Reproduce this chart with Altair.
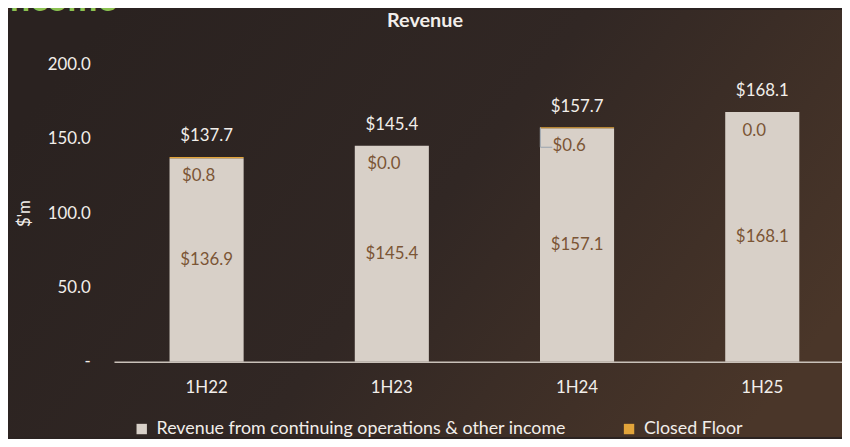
import altair as alt
import pandas as pd

periods = ["1H22", "1H23", "1H24", "1H25"]
revenue = [136.9, 145.4, 157.1, 168.1]
closed_floor = [0.8, 0.0, 0.6, 0.0]
totals = [137.7, 145.4, 157.7, 168.1]
revenue_labels = ["$136.9", "$145.4", "$157.1", "$168.1"]
floor_labels = ["$0.8", "$0.0", "$0.6", "0.0"]
total_labels = ["$137.7", "$145.4", "$157.7", "$168.1"]
series = ["Revenue from continuing operations & other income", "Closed Floor"]
series_colors = ["#d8d0c8", "#e2a43a"]

FONT = "Lato"
TXT = "#f2eeea"

rows = []
for i, p in enumerate(periods):
    rows.append({"period": p, "series": series[0], "value": revenue[i], "ord": 0})
    rows.append({"period": p, "series": series[1], "value": closed_floor[i], "ord": 1})
stack_df = pd.DataFrame(rows)

lab_df = pd.DataFrame({
    "period": periods,
    "rev_mid": [v / 2 for v in revenue],
    "total": totals,
    "rev_label": revenue_labels,
    "floor_label": floor_labels,
    "total_label": total_labels,
})

# leader line for 1H24 closed-floor label
leader_df = pd.DataFrame({"period": ["1H24"], "ytop": [157.6], "ybot": [144.3]})

xscale = alt.Scale(domain=periods, range=[0, 748], paddingInner=0.6, paddingOuter=0.3)
yscale = alt.Scale(domain=[0, 200])
X = alt.X("period:N", scale=xscale, sort=periods,
          axis=alt.Axis(title=None, labelAngle=0, ticks=False, labelPadding=18,
                        labelFontSize=17, labelColor=TXT, labelFont=FONT,
                        domainColor="#c9c1b9", domainWidth=1.5, grid=False, zindex=1))

bg = alt.Chart(pd.DataFrame({"a": [0]})).mark_rect(
    color={"gradient": "linear", "x1": 0, "y1": 0.3, "x2": 1, "y2": 0.7,
           "stops": [{"offset": 0, "color": "#2a2220"},
                     {"offset": 0.5, "color": "#312724"},
                     {"offset": 1, "color": "#4a3629"}]}
).encode(x=alt.value(-107), x2=alt.value(735), y=alt.value(-55), y2=alt.value(376))

bars = alt.Chart(stack_df).mark_bar().encode(
    x=X,
    y=alt.Y("value:Q", stack="zero", scale=yscale,
            axis=alt.Axis(title="$'m", values=[0, 50, 100, 150, 200], grid=False,
                          domain=False, ticks=False, labelPadding=24, zindex=1,
                          labelExpr="datum.value == 0 ? '-' : format(datum.value, '.1f')",
                          labelFontSize=17, labelColor=TXT, labelFont=FONT,
                          titleFontSize=17, titleColor=TXT, titleFont=FONT,
                          titleFontWeight="normal", titleAngle=-90,
                          titleX=-90, titleY=150, titleAlign="center",
                          titleBaseline="middle")),
    color=alt.Color("series:N", scale=alt.Scale(domain=series, range=series_colors),
                    legend=alt.Legend(title=None, orient="none", direction="horizontal",
                                      legendX=19, legendY=359, symbolType="square",
                                      symbolSize=110, symbolStrokeWidth=0,
                                      labelFontSize=18, labelColor=TXT, labelFont=FONT,
                                      columnPadding=54, labelOffset=6, labelLimit=600,
                                      zindex=1)),
    order=alt.Order("ord:Q", sort="ascending"),
)

rev_text = alt.Chart(lab_df).mark_text(fontSize=17, font=FONT, color="#7b5535",
                                       baseline="middle").encode(
    x=alt.X("period:N", scale=xscale, sort=periods), y=alt.Y("rev_mid:Q", scale=yscale),
    text="rev_label:N")

floor_text = alt.Chart(lab_df).mark_text(fontSize=17, font=FONT, color="#7b5535",
                                         baseline="middle", dy=19, dx=-8).encode(
    x=alt.X("period:N", scale=xscale, sort=periods), y=alt.Y("total:Q", scale=yscale),
    text="floor_label:N")

total_text = alt.Chart(lab_df).mark_text(fontSize=17, font=FONT, color=TXT,
                                         baseline="middle", dy=-21).encode(
    x=alt.X("period:N", scale=xscale, sort=periods), y=alt.Y("total:Q", scale=yscale),
    text="total_label:N")

leader_v = alt.Chart(leader_df).mark_rule(color="#a3aab2", strokeWidth=1.2, xOffset=-37).encode(
    x=alt.X("period:N", scale=xscale, sort=periods),
    y=alt.Y("ytop:Q", scale=yscale), y2="ybot:Q")

leader_h = alt.Chart(leader_df).mark_rule(color="#a3aab2", strokeWidth=1.2,
                                          xOffset=-37, x2Offset=-25).encode(
    x=alt.X("period:N", scale=xscale, sort=periods), x2="period:N",
    y=alt.Y("ybot:Q", scale=yscale))

title_txt = alt.Chart(pd.DataFrame({"t": ["Revenue"]})).mark_text(
    fontSize=20, font=FONT, fontWeight="bold", color=TXT, baseline="middle", align="center"
).encode(x=alt.value(314), y=alt.value(-44), text="t:N")

income_txt = alt.Chart(pd.DataFrame({"t": ["income"]})).mark_text(
    fontSize=36, font=FONT, fontWeight="bold", color="#8cc152", baseline="alphabetic",
    align="left"
).encode(x=alt.value(-114), y=alt.value(-54), text="t:N")

chart = alt.layer(bg, bars, rev_text, floor_text, total_text, leader_v, leader_h,
                  title_txt, income_txt).properties(
    width=735, height=300,
    autosize=alt.AutoSizeParams(type="none"),
    padding={"left": 107, "top": 55, "right": 0, "bottom": 76},
    background="#2b2321",
).configure_view(stroke=None)

chart.save("out.html", embed_options={"renderer": "svg", "actions": False})
